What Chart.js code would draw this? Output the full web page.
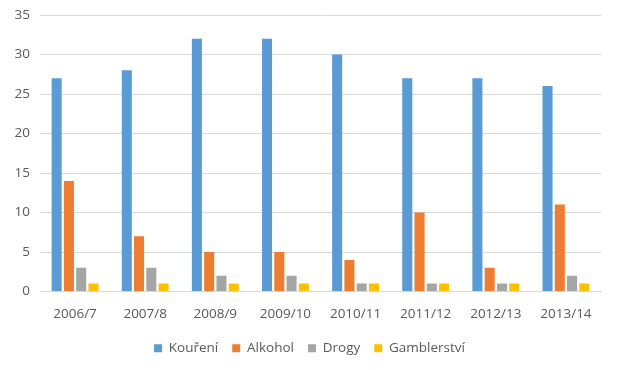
<!DOCTYPE html>
<html>
<head>
<meta charset="utf-8">
<script src="https://cdn.jsdelivr.net/npm/chart.js@4"></script>
<style>
  html, body { margin: 0; padding: 0; background: #fff; }
  #wrap { width: 619px; height: 370px; }
</style>
</head>
<body>
<div id="wrap"><canvas id="myChart" width="619" height="370"></canvas></div>
<script>
const years = ["2006/7", "2007/8", "2008/9", "2009/10", "2010/11", "2011/12", "2012/13", "2013/14"];
const koureni = [27, 28, 32, 32, 30, 27, 27, 26];
const alkohol = [14, 7, 5, 5, 4, 10, 3, 11];
const drogy = [3, 3, 2, 2, 1, 1, 1, 2];
const gamblerstvi = [1, 1, 1, 1, 1, 1, 1, 1];

const seriesNames = ["Kouření", "Alkohol", "Drogy", "Gamblerství"];
const seriesColors = ['#5b9bd5', '#ed7d31', '#a5a5a5', '#ffc000'];

Chart.defaults.font.family = "'Open Sans', 'Liberation Sans', sans-serif";
Chart.defaults.font.size = 13;
Chart.defaults.color = '#595959';

// centre the legend on the whole canvas, not just the padded area
const shiftLegend = {
    id: 'shiftLegend',
    afterLayout(chart) {
        chart.legend.left += 9;
        chart.legend.right += 9;
    }
};

const ctx = document.getElementById('myChart').getContext('2d');
const myChart = new Chart(ctx, {
    type: 'bar',
    data: {
        labels: years,
        datasets: [koureni, alkohol, drogy, gamblerstvi].map((values, i) => ({
            label: seriesNames[i],
            data: values,
            backgroundColor: seriesColors[i],
            borderWidth: 0,
            categoryPercentage: 0.7,
            barPercentage: 0.82
        }))
    },
    options: {
        responsive: false,
        animation: false,
        layout: {
            padding: { left: 0, right: 18, top: 15, bottom: 5 }
        },
        scales: {
            x: {
                grid: { display: false },
                border: { color: '#d9d9d9' },
                ticks: { padding: 7, font: { size: 13.5 } },
                afterFit: function(scale) { scale.height = 36; }
            },
            y: {
                min: 0,
                max: 35,
                ticks: { stepSize: 5, padding: 10, font: { size: 13.5, lineHeight: 1 } },
                grid: { color: '#d9d9d9', drawTicks: false },
                border: { display: false },
                afterFit: function(scale) {
                    scale.width = 40;
                    scale.paddingTop = 0;
                }
            }
        },
        plugins: {
            legend: {
                position: 'bottom',
                labels: {
                    boxWidth: 8,
                    boxHeight: 8,
                    padding: 14,
                    font: { size: 13.5 }
                }
            },
            tooltip: { enabled: false }
        }
    },
    plugins: [shiftLegend]
});
</script>
</body>
</html>
